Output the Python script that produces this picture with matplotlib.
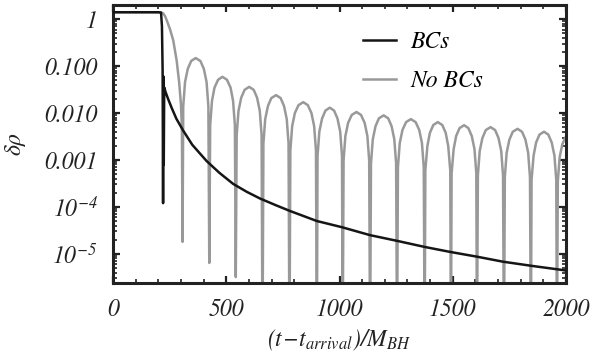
import matplotlib
matplotlib.use("Agg")
import matplotlib.pyplot as plt
from matplotlib.ticker import FixedLocator, FixedFormatter, MultipleLocator, LogLocator, NullFormatter

plt.rcParams['font.family'] = ['STIXGeneral', 'DejaVu Serif']
plt.rcParams['font.style'] = 'italic'
plt.rcParams['mathtext.fontset'] = 'custom'
plt.rcParams['mathtext.rm'] = 'STIXGeneral:italic'
plt.rcParams['mathtext.it'] = 'STIXGeneral:italic'
plt.rcParams['mathtext.bf'] = 'STIXGeneral:italic:bold'
plt.rcParams['mathtext.default'] = 'it'

# ---- data ----
bcs_t = [0, 200, 212, 216, 219, 221, 222.5, 224, 226, 232, 243, 260, 280, 310, 350, 413,
         470, 530, 590, 650, 720, 781, 900, 1010, 1135, 1252, 1377, 1488, 1607, 1722,
         1854, 1974, 2000]
bcs_v = [1.40, 1.40, 1.38, 0.7, 0.08, 1.2e-4, 0.06, 8e-4, 0.035, 0.028, 0.02, 0.0125,
         0.0075, 0.0042, 0.0021, 9.5e-4, 5.3e-4, 3.1e-4, 2.1e-4, 1.5e-4, 1.08e-4,
         8.2e-5, 5.0e-5, 3.7e-5, 2.5e-5, 1.9e-5, 1.4e-5, 1.1e-5, 8.7e-6, 6.8e-6,
         5.5e-6, 4.6e-6, 4.4e-6]

nobcs_t = [0, 200, 210, 221, 230, 238, 252, 266, 281, 292, 300, 304, 307,
           310, 318, 330, 345, 365, 386, 401, 413, 421, 425,
           429, 437, 448, 464, 483, 503, 519, 530, 538, 542,
           546, 554, 566, 581, 601, 621, 636, 648, 656, 660,
           664, 672, 684, 699, 720, 740, 755, 767, 775, 779,
           783, 791, 803, 819, 840, 860, 876, 888, 896, 900,
           903, 911, 923, 938, 957, 976, 991, 1003, 1011, 1014,
           1018, 1026, 1038, 1054, 1075, 1095, 1111, 1123, 1131, 1135,
           1139, 1147, 1159, 1174, 1195, 1215, 1230, 1242, 1250, 1254,
           1258, 1266, 1278, 1294, 1315, 1336, 1352, 1364, 1372, 1376,
           1379, 1388, 1399, 1414, 1434, 1454, 1469, 1480, 1489, 1492,
           1495, 1504, 1515, 1530, 1550, 1569, 1584, 1596, 1604, 1607,
           1611, 1619, 1631, 1646, 1667, 1687, 1702, 1714, 1722, 1726,
           1730, 1738, 1750, 1765, 1786, 1806, 1821, 1833, 1841, 1845,
           1848, 1857, 1868, 1883, 1903, 1922, 1937, 1949, 1957, 1960,
           1964, 1972, 1984, 2000]
nobcs_v = [1.40, 1.40, 1.39, 1.33, 1.15, 0.92, 0.6, 0.35, 0.13, 0.045, 0.015, 0.005, 1.8e-5,
           0.0139, 0.0457, 0.087, 0.128, 0.148, 0.128, 0.087, 0.0457, 0.0139, 6.4e-6,
           0.00555, 0.0182, 0.0347, 0.0511, 0.059, 0.0511, 0.0347, 0.0182, 0.00555, 3.2e-6,
           0.00338, 0.0111, 0.0212, 0.0312, 0.036, 0.0312, 0.0212, 0.0111, 0.00338, 1e-7,
           0.00226, 0.00742, 0.0141, 0.0208, 0.024, 0.0208, 0.0141, 0.00742, 0.00226, 1e-7,
           0.0016, 0.00525, 0.0100, 0.0147, 0.017, 0.0147, 0.0100, 0.00525, 0.0016, 1e-7,
           0.00122, 0.00402, 0.00764, 0.01126, 0.013, 0.01126, 0.00764, 0.00402, 0.00122, 1e-7,
           0.00099, 0.00324, 0.00617, 0.00909, 0.0105, 0.00909, 0.00617, 0.00324, 0.00099, 1e-7,
           0.00084, 0.00275, 0.00523, 0.00771, 0.0089, 0.00771, 0.00523, 0.00275, 0.00084, 1e-7,
           0.00070, 0.00229, 0.00435, 0.00641, 0.0074, 0.00641, 0.00435, 0.00229, 0.00070, 1e-7,
           0.00060, 0.00198, 0.00376, 0.00554, 0.0064, 0.00554, 0.00376, 0.00198, 0.00060, 1e-7,
           0.00052, 0.00170, 0.00323, 0.00476, 0.0055, 0.00476, 0.00323, 0.00170, 0.00052, 1e-7,
           0.00047, 0.00155, 0.00294, 0.00433, 0.0050, 0.00433, 0.00294, 0.00155, 0.00047, 1e-7,
           0.00043, 0.00142, 0.00270, 0.00398, 0.0046, 0.00398, 0.00270, 0.00142, 0.00043, 1e-7,
           0.00038, 0.00124, 0.00235, 0.00346, 0.0040, 0.00346, 0.00235, 0.00124, 0.00038, 1e-7,
           0.00035, 0.00114, 0.00218, 0.0032]

ytick_vals = [1, 0.1, 0.01, 0.001, 1e-4, 1e-5]
ytick_labels = ['1', '0.100', '0.010', '0.001', r'$10^{-4}$', r'$10^{-5}$']
xtick_vals = [0, 500, 1000, 1500, 2000]
xtick_labels = ['0', '500', '1000', '1500', '2000']
series_labels = ['BCs', 'No BCs']

fig = plt.figure(figsize=(6.08, 3.55), dpi=100)
ax = fig.add_axes([0.1859, 0.203, 0.745, 0.783])

ax.plot(nobcs_t, nobcs_v, color='#999999', lw=1.8, label=series_labels[1], zorder=2)
ax.plot(bcs_t, bcs_v, color='#151515', lw=1.8, label=series_labels[0], zorder=3)

ax.set_yscale('log')
ax.set_xlim(0, 2000)
ax.set_ylim(2.4e-6, 2.0)

ax.yaxis.set_major_locator(FixedLocator(ytick_vals))
ax.yaxis.set_major_formatter(FixedFormatter(ytick_labels))
ax.yaxis.set_minor_locator(LogLocator(base=10, subs=range(2, 10), numticks=20))
ax.yaxis.set_minor_formatter(NullFormatter())
ax.xaxis.set_major_locator(FixedLocator(xtick_vals))
ax.xaxis.set_major_formatter(FixedFormatter(xtick_labels))
ax.xaxis.set_minor_locator(MultipleLocator(100))

ax.tick_params(which='both', direction='in', top=True, right=True, width=1.6, labelsize=17, colors='#222222')
ax.tick_params(which='major', length=5)
ax.tick_params(which='minor', length=3, width=1.2)
ax.tick_params(axis='y', pad=11)
ax.tick_params(axis='x', pad=11)
for s in ax.spines.values():
    s.set_linewidth(2.2)
    s.set_color('#222222')

ax.set_xlabel(r'$(t\!-\!t_{arrival})/M_{BH}$', fontsize=17, labelpad=5, color='#222222')
ax.set_ylabel(r'$\delta\rho$', fontsize=17, labelpad=12, color='#222222')

handles, labels = ax.get_legend_handles_labels()
order = [1, 0]
leg = ax.legend([handles[i] for i in order], [labels[i] for i in order],
                loc='upper left', bbox_to_anchor=(0.505, 0.985), frameon=False,
                prop={'size': 17, 'style': 'italic', 'family': 'STIXGeneral'},
                handlelength=1.4, handletextpad=0.6, labelspacing=0.7)

fig.savefig('out.png', dpi=100)
